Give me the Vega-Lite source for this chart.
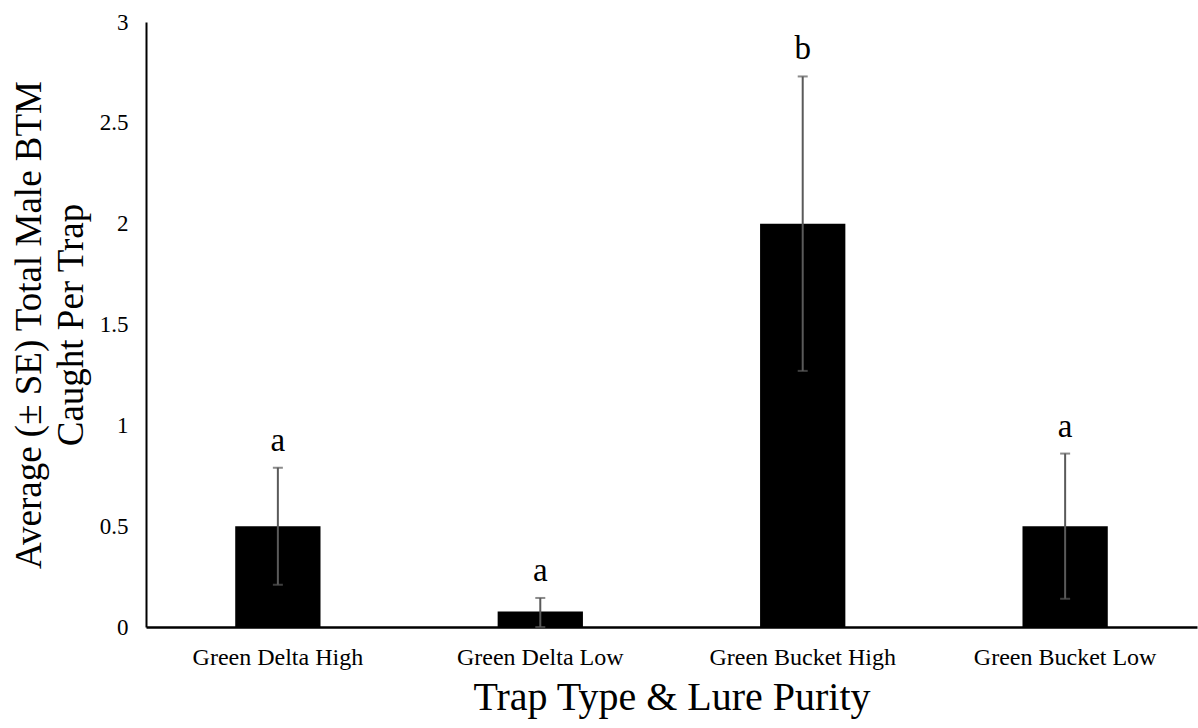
{
  "$schema": "https://vega.github.io/schema/vega-lite/v6.json",
  "width": 1051,
  "height": 605,
  "autosize": {"type": "none"},
  "padding": {"left": 146, "top": 22, "right": 1, "bottom": 101},
  "background": "white",
  "config": {
    "view": {"stroke": null},
    "font": "Liberation Serif"
  },
  "data": {
    "values": [
      {"trap": "Green Delta High", "mean": 0.5, "lower": 0.21, "upper": 0.79, "letter": "a"},
      {"trap": "Green Delta Low", "mean": 0.077, "lower": 0.0, "upper": 0.144, "letter": "a"},
      {"trap": "Green Bucket High", "mean": 2.0, "lower": 1.27, "upper": 2.73, "letter": "b"},
      {"trap": "Green Bucket Low", "mean": 0.5, "lower": 0.14, "upper": 0.86, "letter": "a"}
    ]
  },
  "encoding": {
    "x": {
      "field": "trap",
      "type": "nominal",
      "sort": null,
      "scale": {"paddingInner": 0.675, "paddingOuter": 0.34},
      "axis": {
        "title": "Trap Type & Lure Purity",
        "titleFontSize": 40,
        "titleFontWeight": "normal",
        "titleColor": "black",
        "titlePadding": 8,
        "labelAngle": 0,
        "labelFontSize": 24,
        "labelLimit": 0,
        "labelColor": "black",
        "labelPadding": 18,
        "ticks": false,
        "domainColor": "black",
        "domainWidth": 2.5
      }
    }
  },
  "layer": [
    {
      "mark": {"type": "bar", "color": "black"},
      "encoding": {
        "y": {
          "field": "mean",
          "type": "quantitative",
          "scale": {"domain": [0, 3], "nice": false},
          "title": ["Average (± SE) Total Male BTM", "Caught Per Trap"],
          "axis": {
            "values": [0, 0.5, 1, 1.5, 2, 2.5, 3],
            "labelExpr": "datum.value + ''",
            "grid": false,
            "ticks": false,
            "labelFontSize": 23,
            "labelColor": "black",
            "labelPadding": 18,
            "domainColor": "black",
            "domainWidth": 2,
            "titleFontSize": 37,
            "titleFontWeight": "normal",
            "titleColor": "black",
            "titlePadding": 9,
            "titleLineHeight": 42
          }
        }
      }
    },
    {
      "mark": {"type": "errorbar", "ticks": {"color": "#5a5a5a", "size": 10, "thickness": 2}, "rule": {"color": "#5a5a5a", "strokeWidth": 2}},
      "encoding": {
        "y": {"field": "lower", "type": "quantitative", "title": ["Average (± SE) Total Male BTM", "Caught Per Trap"]},
        "y2": {"field": "upper"}
      }
    },
    {
      "mark": {"type": "text", "fontSize": 33, "baseline": "alphabetic", "dy": -17, "color": "black"},
      "encoding": {
        "y": {"field": "upper", "type": "quantitative", "title": ["Average (± SE) Total Male BTM", "Caught Per Trap"]},
        "text": {"field": "letter"}
      }
    }
  ]
}
